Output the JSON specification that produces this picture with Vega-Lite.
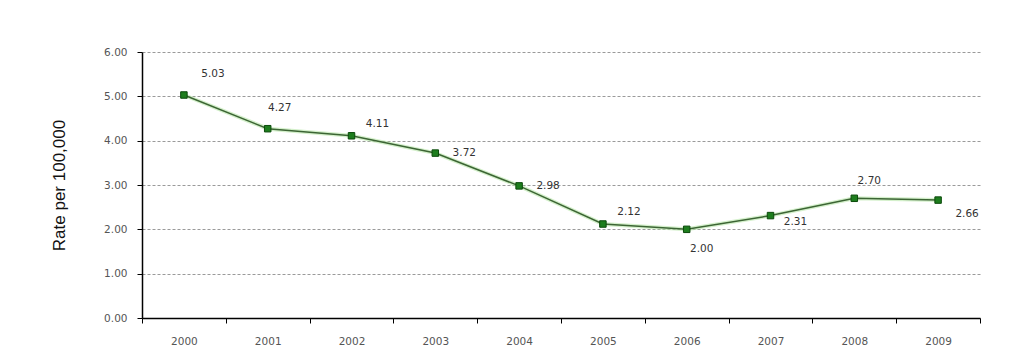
{
  "$schema": "https://vega.github.io/schema/vega-lite/v6.json",
  "autosize": "none",
  "width": 838,
  "height": 266,
  "padding": {"left": 142, "top": 52, "right": 54, "bottom": 38},
  "background": "white",
  "config": {
    "view": {"stroke": null},
    "font": "DejaVu Sans"
  },
  "data": {
    "values": [
      {"year": "2000", "rate": 5.03},
      {"year": "2001", "rate": 4.27},
      {"year": "2002", "rate": 4.11},
      {"year": "2003", "rate": 3.72},
      {"year": "2004", "rate": 2.98},
      {"year": "2005", "rate": 2.12},
      {"year": "2006", "rate": 2.00},
      {"year": "2007", "rate": 2.31},
      {"year": "2008", "rate": 2.70},
      {"year": "2009", "rate": 2.66}
    ]
  },
  "encoding": {
    "x": {
      "field": "year",
      "type": "ordinal",
      "scale": {"type": "band", "paddingInner": 0, "paddingOuter": 0},
      "axis": {
        "title": null,
        "labelAngle": 0,
        "tickBand": "extent",
        "tickSize": 5,
        "tickColor": "#000",
        "domainColor": "#000",
        "domainWidth": 1.5,
        "labelFontSize": 10.5,
        "labelColor": "#555",
        "labelPadding": 13,
        "grid": false
      }
    },
    "y": {
      "field": "rate",
      "type": "quantitative",
      "scale": {"domain": [0, 6], "nice": false, "zero": true},
      "axis": {
        "title": "Rate per 100,000",
        "titleFont": "Liberation Sans",
        "titleFontSize": 17,
        "titleFontWeight": "normal",
        "titleColor": "#111",
        "titlePadding": 35,
        "values": [0, 1, 2, 3, 4, 5, 6],
        "format": ".2f",
        "labelFontSize": 10.5,
        "labelColor": "#555",
        "labelPadding": 10,
        "tickSize": 5,
        "tickColor": "#000",
        "domainColor": "#000",
        "domainWidth": 1.5,
        "grid": true,
        "gridColor": "#9a9a9a",
        "gridDash": [3, 2],
        "gridWidth": 1
      }
    }
  },
  "layer": [
    {"mark": {"type": "line", "color": "#b8e6a8", "strokeWidth": 4, "opacity": 0.6}},
    {"mark": {"type": "line", "color": "#3c6534", "strokeWidth": 1.5}},
    {"mark": {"type": "square", "size": 42, "filled": true, "color": "#1d7d1d", "stroke": "#0b4a0b", "strokeWidth": 1, "opacity": 1}},
    {
      "transform": [{"filter": {"field": "year", "equal": "2000"}}],
      "mark": {"type": "text", "fontSize": 10.5, "color": "#333", "dx": 29, "dy": -21},
      "encoding": {"text": {"field": "rate", "type": "quantitative", "format": ".2f"}}
    },
    {
      "transform": [{"filter": {"field": "year", "equal": "2001"}}],
      "mark": {"type": "text", "fontSize": 10.5, "color": "#333", "dx": 12, "dy": -21},
      "encoding": {"text": {"field": "rate", "type": "quantitative", "format": ".2f"}}
    },
    {
      "transform": [{"filter": {"field": "year", "oneOf": ["2002", "2005"]}}],
      "mark": {"type": "text", "fontSize": 10.5, "color": "#333", "dx": 26, "dy": -12},
      "encoding": {"text": {"field": "rate", "type": "quantitative", "format": ".2f"}}
    },
    {
      "transform": [{"filter": {"field": "year", "oneOf": ["2003", "2004"]}}],
      "mark": {"type": "text", "fontSize": 10.5, "color": "#333", "dx": 29, "dy": 0},
      "encoding": {"text": {"field": "rate", "type": "quantitative", "format": ".2f"}}
    },
    {
      "transform": [{"filter": {"field": "year", "equal": "2006"}}],
      "mark": {"type": "text", "fontSize": 10.5, "color": "#333", "dx": 15, "dy": 20},
      "encoding": {"text": {"field": "rate", "type": "quantitative", "format": ".2f"}}
    },
    {
      "transform": [{"filter": {"field": "year", "equal": "2007"}}],
      "mark": {"type": "text", "fontSize": 10.5, "color": "#333", "dx": 25, "dy": 6},
      "encoding": {"text": {"field": "rate", "type": "quantitative", "format": ".2f"}}
    },
    {
      "transform": [{"filter": {"field": "year", "equal": "2008"}}],
      "mark": {"type": "text", "fontSize": 10.5, "color": "#333", "dx": 15, "dy": -17},
      "encoding": {"text": {"field": "rate", "type": "quantitative", "format": ".2f"}}
    },
    {
      "transform": [{"filter": {"field": "year", "equal": "2009"}}],
      "mark": {"type": "text", "fontSize": 10.5, "color": "#333", "dx": 29, "dy": 14},
      "encoding": {"text": {"field": "rate", "type": "quantitative", "format": ".2f"}}
    }
  ]
}
